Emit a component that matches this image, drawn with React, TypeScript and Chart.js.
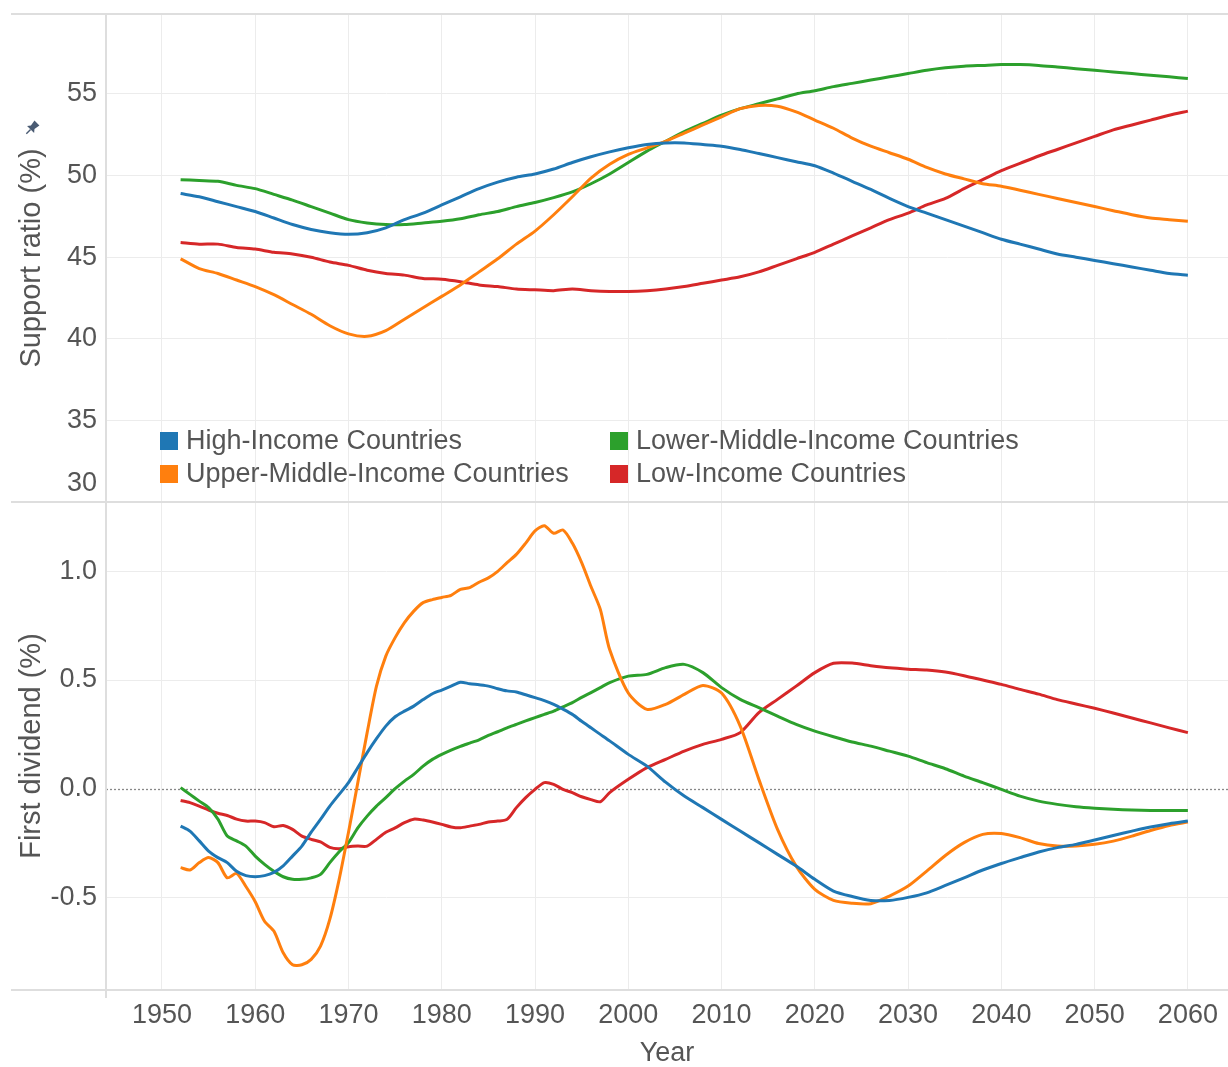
import React, { useEffect, useRef } from "react";
import { Chart, registerables } from "chart.js";

Chart.register(...registerables);

const FONT = "'Liberation Sans', Arial, Helvetica, sans-serif";
const TEXT_COLOR = "#555555";

// ---------- Data ----------
const supportYears = [
  1952, 1954, 1956, 1958, 1960, 1962, 1964, 1966, 1968, 1970,
  1972, 1974, 1976, 1978, 1980, 1982, 1984, 1986, 1988, 1990,
  1992, 1994, 1996, 1998, 2000, 2002, 2004, 2006, 2008, 2010,
  2012, 2014, 2016, 2018, 2020, 2022, 2024, 2026, 2028, 2030,
  2032, 2034, 2036, 2038, 2040, 2042, 2044, 2046, 2048, 2050,
  2052, 2054, 2056, 2058, 2060,
];

const supportHigh = [
  48.9, 48.7, 48.4, 48.1, 47.8, 47.4, 47.0, 46.7, 46.5, 46.4,
  46.5, 46.8, 47.3, 47.7, 48.2, 48.7, 49.2, 49.6, 49.9, 50.1,
  50.4, 50.8, 51.15, 51.45, 51.7, 51.9, 52.0, 52.0, 51.9, 51.8,
  51.6, 51.35, 51.1, 50.85, 50.6, 50.15, 49.65, 49.15, 48.6, 48.1,
  47.7, 47.3, 46.9, 46.5, 46.1, 45.8, 45.5, 45.2, 45.0, 44.8,
  44.6, 44.4, 44.2, 44.0, 43.9,
];

const supportUpperMid = [
  44.9, 44.3, 44.0, 43.6, 43.2, 42.7, 42.1, 41.5, 40.8, 40.3,
  40.15, 40.5, 41.2, 41.9, 42.6, 43.3, 44.1, 44.9, 45.8, 46.6,
  47.6, 48.7, 49.85, 50.7, 51.3, 51.7, 52.1, 52.6, 53.1, 53.6,
  54.1, 54.3, 54.25, 53.9, 53.4, 52.9, 52.3, 51.8, 51.4, 51.0,
  50.5, 50.1, 49.8, 49.5, 49.35, 49.1, 48.85, 48.6, 48.35, 48.1,
  47.85, 47.6, 47.4, 47.3, 47.2,
];

const supportLowerMid = [
  49.75, 49.7, 49.65, 49.4, 49.2, 48.85, 48.5, 48.1, 47.7, 47.3,
  47.1, 47.0, 47.0, 47.1, 47.2, 47.35, 47.6, 47.8, 48.1, 48.35,
  48.65, 49.0, 49.5, 50.1, 50.8, 51.5, 52.1, 52.7, 53.2, 53.7,
  54.1, 54.4, 54.7, 55.0, 55.2, 55.45, 55.65, 55.85, 56.05, 56.25,
  56.45, 56.6, 56.7, 56.75, 56.8, 56.8, 56.75, 56.65, 56.55, 56.45,
  56.35, 56.25, 56.15, 56.05, 55.95,
];

const supportLow = [
  45.9, 45.8, 45.8, 45.6, 45.5, 45.3, 45.2, 45.0, 44.7, 44.5,
  44.2, 44.0, 43.9, 43.7, 43.65, 43.5, 43.3, 43.2, 43.05, 43.0,
  42.95, 43.05, 42.95, 42.9, 42.9, 42.95, 43.05, 43.2, 43.4, 43.6,
  43.8, 44.1, 44.5, 44.9, 45.3, 45.8, 46.3, 46.8, 47.3, 47.7,
  48.2, 48.6, 49.2, 49.75, 50.3, 50.75, 51.2, 51.6, 52.0, 52.4,
  52.8, 53.1, 53.4, 53.7, 53.95,
];

const dividendYears = [
  1952, 1953, 1954, 1955, 1956, 1957, 1958, 1959, 1960, 1961,
  1962, 1963, 1964, 1965, 1966, 1967, 1968, 1969, 1970, 1971,
  1972, 1973, 1974, 1975, 1976, 1977, 1978, 1979, 1980, 1981,
  1982, 1983, 1984, 1985, 1986, 1987, 1988, 1989, 1990, 1991,
  1992, 1993, 1994, 1995, 1996, 1997, 1998,
  2000, 2002, 2004, 2006, 2008, 2010, 2012, 2014, 2016, 2018,
  2020, 2022, 2024, 2026, 2028, 2030, 2032, 2034, 2036, 2038,
  2040, 2042, 2044, 2046, 2048, 2050, 2052, 2054, 2056, 2058, 2060,
];

const dividendHigh = [
  -0.172, -0.195, -0.24, -0.287, -0.317, -0.34, -0.38, -0.4, -0.405, -0.4,
  -0.385, -0.355, -0.31, -0.264, -0.2, -0.141, -0.08, -0.026, 0.028, 0.097,
  0.166, 0.23, 0.288, 0.331, 0.357, 0.38, 0.41, 0.437, 0.454, 0.472,
  0.49, 0.483, 0.478, 0.472, 0.46, 0.45, 0.445, 0.432, 0.419, 0.405,
  0.388, 0.366, 0.342, 0.31, 0.28, 0.25, 0.22,
  0.158, 0.104, 0.03, -0.034, -0.087, -0.141, -0.195, -0.248, -0.302, -0.356,
  -0.417, -0.471, -0.496, -0.514, -0.514, -0.5, -0.479, -0.445, -0.41, -0.374,
  -0.344, -0.317, -0.291, -0.271, -0.256, -0.236, -0.215, -0.195, -0.176, -0.161, -0.149,
];

const dividendUpperMid = [
  -0.363, -0.374, -0.34, -0.317, -0.34, -0.41, -0.39, -0.45, -0.52, -0.61,
  -0.655, -0.755, -0.81, -0.81, -0.785, -0.724, -0.6, -0.417, -0.2, 0.028,
  0.258, 0.472, 0.61, 0.695, 0.764, 0.817, 0.856, 0.87, 0.88, 0.89,
  0.917, 0.925, 0.95, 0.97, 1.0, 1.04, 1.078, 1.13, 1.186, 1.21,
  1.175, 1.19, 1.13, 1.04, 0.93, 0.825, 0.64,
  0.44, 0.365, 0.388, 0.434, 0.475, 0.44, 0.288, 0.043, -0.187, -0.356,
  -0.463, -0.514, -0.527, -0.529, -0.494, -0.448, -0.379, -0.307, -0.248, -0.21,
  -0.206, -0.225, -0.252, -0.264, -0.264, -0.256, -0.241, -0.218, -0.192, -0.169, -0.153,
];

const dividendLowerMid = [
  0.005, -0.026, -0.057, -0.087, -0.14, -0.218, -0.24, -0.264, -0.31, -0.348,
  -0.38, -0.405, -0.417, -0.417, -0.41, -0.394, -0.34, -0.29, -0.248, -0.18,
  -0.126, -0.08, -0.041, 0.0, 0.035, 0.066, 0.104, 0.135, 0.158, 0.178,
  0.195, 0.21, 0.225, 0.245, 0.262, 0.28, 0.296, 0.312, 0.327, 0.342,
  0.357, 0.377, 0.396, 0.42, 0.442, 0.465, 0.488,
  0.518, 0.526, 0.557, 0.572, 0.534, 0.465, 0.411, 0.373, 0.334, 0.296,
  0.265, 0.239, 0.215, 0.196, 0.173, 0.15, 0.12, 0.092, 0.058, 0.028,
  -0.003, -0.034, -0.057, -0.072, -0.083, -0.09, -0.095, -0.098, -0.1, -0.1, -0.1,
];

const dividendLow = [
  -0.054, -0.064, -0.08, -0.098, -0.113, -0.123, -0.14, -0.149, -0.149, -0.156,
  -0.175, -0.169, -0.187, -0.218, -0.233, -0.245, -0.27, -0.276, -0.267, -0.264,
  -0.264, -0.233, -0.2, -0.18, -0.156, -0.14, -0.144, -0.153, -0.164, -0.176,
  -0.18, -0.172, -0.164, -0.153, -0.149, -0.141, -0.087, -0.041, -0.003, 0.028,
  0.02, -0.003, -0.018, -0.037, -0.05, -0.06, -0.018,
  0.043, 0.097, 0.135, 0.173, 0.204, 0.227, 0.258, 0.35, 0.411, 0.472,
  0.534, 0.577, 0.578, 0.566, 0.556, 0.55, 0.546, 0.537, 0.52, 0.5,
  0.48, 0.457, 0.435, 0.41, 0.39, 0.37, 0.348, 0.325, 0.303, 0.28, 0.258,
];

const yearTicks = [1950, 1960, 1970, 1980, 1990, 2000, 2010, 2020, 2030, 2040, 2050, 2060];
const supportTicks = [30, 35, 40, 45, 50, 55];
const dividendTicks = [-0.5, 0, 0.5, 1.0];

const seriesNames = [
  "High-Income Countries",
  "Upper-Middle-Income Countries",
  "Lower-Middle-Income Countries",
  "Low-Income Countries",
];
const seriesColors = ["#1f77b4", "#ff7f0e", "#2ca02c", "#d62728"];

// legend grid: [seriesIndex, column, row]
const legendLayout = [
  [0, 0, 0],
  [2, 1, 0],
  [1, 0, 1],
  [3, 1, 1],
];

const supportSeries = [supportHigh, supportUpperMid, supportLowerMid, supportLow];
const dividendSeries = [dividendHigh, dividendUpperMid, dividendLowerMid, dividendLow];

const toPoints = (xs: number[], ys: number[]) => xs.map((x, i) => ({ x, y: ys[i] }));

const decorPlugin = {
  id: "decor",
  beforeDatasetsDraw(chart: any) {
    const { ctx, chartArea } = chart;
    const yb = chart.scales.yBot;
    const y0 = Math.round(yb.getPixelForValue(0)) + 0.5;
    ctx.save();
    ctx.strokeStyle = "#888888";
    ctx.lineWidth = 1.3;
    ctx.setLineDash([2, 2]);
    ctx.beginPath();
    ctx.moveTo(chartArea.left, y0);
    ctx.lineTo(chartArea.right, y0);
    ctx.stroke();
    ctx.restore();
  },
  afterDraw(chart: any) {
    const { ctx, chartArea, width } = chart;
    const yt = chart.scales.yTop;
    ctx.save();
    // panel borders
    ctx.strokeStyle = "#dedede";
    ctx.lineWidth = 2;
    [chartArea.top, yt.bottom, chartArea.bottom].forEach((y: number) => {
      ctx.beginPath();
      ctx.moveTo(11, y);
      ctx.lineTo(width, y);
      ctx.stroke();
    });
    ctx.beginPath();
    ctx.moveTo(chartArea.left, chartArea.top);
    ctx.lineTo(chartArea.left, chartArea.bottom + 8);
    ctx.stroke();

    // lowest support tick label, shifted inside the panel
    ctx.fillStyle = TEXT_COLOR;
    ctx.font = `27px ${FONT}`;
    ctx.textAlign = "right";
    ctx.textBaseline = "middle";
    ctx.fillText(String(supportTicks[0]), chartArea.left - 9, yt.getPixelForValue(supportTicks[0]) - 18);

    // legend
    ctx.textAlign = "left";
    legendLayout.forEach(([si, col, row]) => {
      const x = chartArea.left + 54 + col * 450;
      const yc = yt.bottom - 61 + row * 33;
      ctx.fillStyle = seriesColors[si];
      ctx.fillRect(x, yc - 9, 18, 18);
      ctx.fillStyle = TEXT_COLOR;
      ctx.fillText(seriesNames[si], x + 26, yc + 1);
    });

    // small pin glyph next to the axis title
    ctx.translate(32, 128);
    ctx.rotate(Math.PI / 4);
    ctx.fillStyle = "#4a5b73";
    ctx.beginPath();
    ctx.moveTo(-3.5, -7);
    ctx.lineTo(3.5, -7);
    ctx.lineTo(2.5, -1);
    ctx.lineTo(5, 2);
    ctx.lineTo(-5, 2);
    ctx.lineTo(-2.5, -1);
    ctx.closePath();
    ctx.fill();
    ctx.fillRect(-0.7, 2, 1.4, 6);
    ctx.restore();
  },
};

export default function App() {
  const canvasRef = useRef<HTMLCanvasElement | null>(null);

  useEffect(() => {
    if (!canvasRef.current) return;
    const datasets: any[] = [];
    supportSeries.forEach((vals, i) => {
      datasets.push({
        label: seriesNames[i],
        data: toPoints(supportYears, vals),
        borderColor: seriesColors[i],
        backgroundColor: seriesColors[i],
        yAxisID: "yTop",
      });
    });
    dividendSeries.forEach((vals, i) => {
      datasets.push({
        label: seriesNames[i],
        data: toPoints(dividendYears, vals),
        borderColor: seriesColors[i],
        backgroundColor: seriesColors[i],
        yAxisID: "yBot",
      });
    });

    const tickFont = { family: FONT, size: 27 };
    const titleFont = { family: FONT, size: 29, lineHeight: 1.2 };
    const fitY = (s: any) => {
      s.width = 106;
      s.paddingTop = 0;
      s.paddingBottom = 0;
    };

    const chart = new Chart(canvasRef.current, {
      type: "line",
      data: { datasets },
      plugins: [decorPlugin],
      options: {
        responsive: false,
        animation: false,
        layout: { padding: { top: 14, right: 0, left: 0, bottom: 0 } },
        plugins: { legend: { display: false }, tooltip: { enabled: false } },
        elements: {
          point: { radius: 0 },
          line: { borderWidth: 3, tension: 0.25 },
        },
        scales: {
          x: {
            type: "linear",
            min: 1944,
            max: 2064.3,
            afterBuildTicks: (s: any) => {
              s.ticks = yearTicks.map((v) => ({ value: v }));
            },
            afterFit: (s: any) => {
              s.height = 77;
              s.paddingLeft = 0;
              s.paddingRight = 0;
            },
            ticks: {
              font: tickFont,
              color: TEXT_COLOR,
              padding: 9,
              maxRotation: 0,
              autoSkip: false,
              callback: (v: any) => String(v),
            },
            grid: { color: "#ececec", drawTicks: false, lineWidth: 1 },
            border: { display: false },
            title: {
              display: true,
              text: "Year",
              color: TEXT_COLOR,
              font: { family: FONT, size: 27, lineHeight: 1 },
              padding: { top: 0, bottom: 0 },
            },
          },
          yBot: {
            type: "linear",
            position: "left",
            stack: "panels",
            stackWeight: 1,
            min: -0.926,
            max: 1.319,
            afterBuildTicks: (s: any) => {
              s.ticks = dividendTicks.map((v) => ({ value: v }));
            },
            afterFit: fitY,
            ticks: {
              font: tickFont,
              color: TEXT_COLOR,
              padding: 9,
              callback: (v: any) => Number(v).toFixed(1),
            },
            grid: {
              drawTicks: false,
              lineWidth: 1,
              color: (c: any) => (c.tick && c.tick.value === 0 ? "rgba(0,0,0,0)" : "#ececec"),
            },
            border: { display: false },
            title: {
              display: true,
              text: "First dividend (%)",
              color: TEXT_COLOR,
              font: titleFont,
              padding: { top: 15, bottom: 0 },
            },
          },
          yTop: {
            type: "linear",
            position: "left",
            stack: "panels",
            stackWeight: 1,
            min: 30,
            max: 59.9,
            afterBuildTicks: (s: any) => {
              s.ticks = supportTicks.map((v) => ({ value: v }));
            },
            afterFit: fitY,
            ticks: {
              font: tickFont,
              padding: 9,
              color: (c: any) => (c.tick && c.tick.value === supportTicks[0] ? "rgba(0,0,0,0)" : TEXT_COLOR),
              callback: (v: any) => String(v),
            },
            grid: {
              drawTicks: false,
              lineWidth: 1,
              color: (c: any) => (c.tick && c.tick.value === supportTicks[0] ? "rgba(0,0,0,0)" : "#ececec"),
            },
            border: { display: false },
            title: {
              display: true,
              text: "Support ratio (%)",
              color: TEXT_COLOR,
              font: titleFont,
              padding: { top: 15, bottom: 0 },
            },
          },
        },
      } as any,
    });
    return () => chart.destroy();
  }, []);

  return (
    <div style={{ position: "fixed", left: 0, top: 0, width: 1228, height: 1067, background: "#ffffff" }}>
      <canvas ref={canvasRef} width={1228} height={1067} style={{ display: "block" }} />
    </div>
  );
}
